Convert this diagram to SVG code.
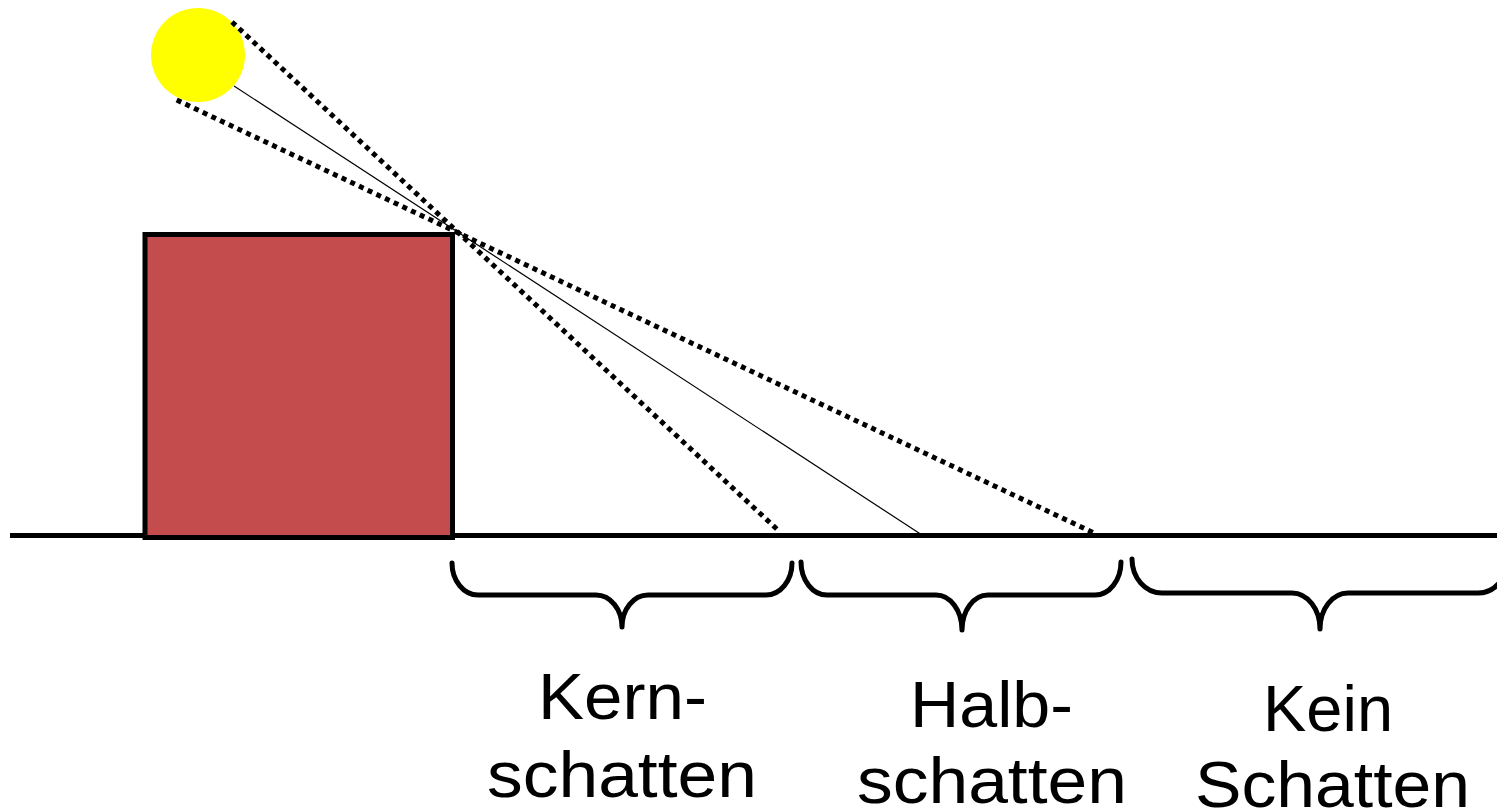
<svg xmlns="http://www.w3.org/2000/svg" width="1497" height="811" viewBox="0 0 1497 811">
<style>
.bg{fill:#ffffff}
.ray{fill:none;stroke:#000;stroke-width:5;stroke-dasharray:5 4.6}
.thin{fill:none;stroke:#000;stroke-width:1.2}
.ground{stroke:#000;stroke-width:5}
.brace{fill:none;stroke:#000;stroke-width:5;stroke-linecap:round;stroke-linejoin:round}
.lbl{font-family:"Liberation Sans",Arial,sans-serif;font-size:64px;fill:#000;text-anchor:middle}
</style>
<rect class="bg" x="0" y="0" width="1497" height="811"/>
<g id="ground"><line class="ground" x1="10" y1="535.5" x2="1497" y2="535.5"/></g>
<g id="box"><rect x="145" y="234.5" width="307.5" height="303" fill="#C44C4C" stroke="#000" stroke-width="5"/></g>
<g id="sun"><circle cx="198" cy="55" r="47" fill="#FFFF00"/></g>
<g id="connectors">
<line class="ray" x1="232" y1="22" x2="780" y2="532"/>
<line class="ray" x1="176.7" y1="100" x2="1094" y2="533"/>
<line class="thin" x1="234" y1="86" x2="922" y2="535"/>
</g>
<g id="brace-kern"><path class="brace" d="M452 563 A26 32 0 0 0 478 595 L596 595 A26 32 0 0 1 622 627 A26 32 0 0 1 648 595 L766 595 A26 32 0 0 0 792 563"/></g>
<g id="brace-halb"><path class="brace" d="M801 562 A26 33 0 0 0 827 595 L936 595 A26 35 0 0 1 962 630 A26 35 0 0 1 988 595 L1095 595 A26 33 0 0 0 1121 562"/></g>
<g id="brace-kein"><path class="brace" d="M1132 559 A30 34 0 0 0 1162 593 L1292 593 A28 36 0 0 1 1320 629 A28 36 0 0 1 1348 593 L1478 593 A30 34 0 0 0 1508 559"/></g>
<g id="label-kern">
<text class="lbl" x="622.5" y="719" textLength="169" lengthAdjust="spacingAndGlyphs">Kern-</text>
<text class="lbl" x="622" y="797" textLength="270" lengthAdjust="spacingAndGlyphs">schatten</text>
</g>
<g id="label-halb">
<text class="lbl" x="991.5" y="727" textLength="163" lengthAdjust="spacingAndGlyphs">Halb-</text>
<text class="lbl" x="992" y="803" textLength="270" lengthAdjust="spacingAndGlyphs">schatten</text>
</g>
<g id="label-kein">
<text class="lbl" x="1328" y="731" textLength="130" lengthAdjust="spacingAndGlyphs">Kein</text>
<text class="lbl" x="1332.5" y="807" textLength="275" lengthAdjust="spacingAndGlyphs">Schatten</text>
</g>
</svg>
